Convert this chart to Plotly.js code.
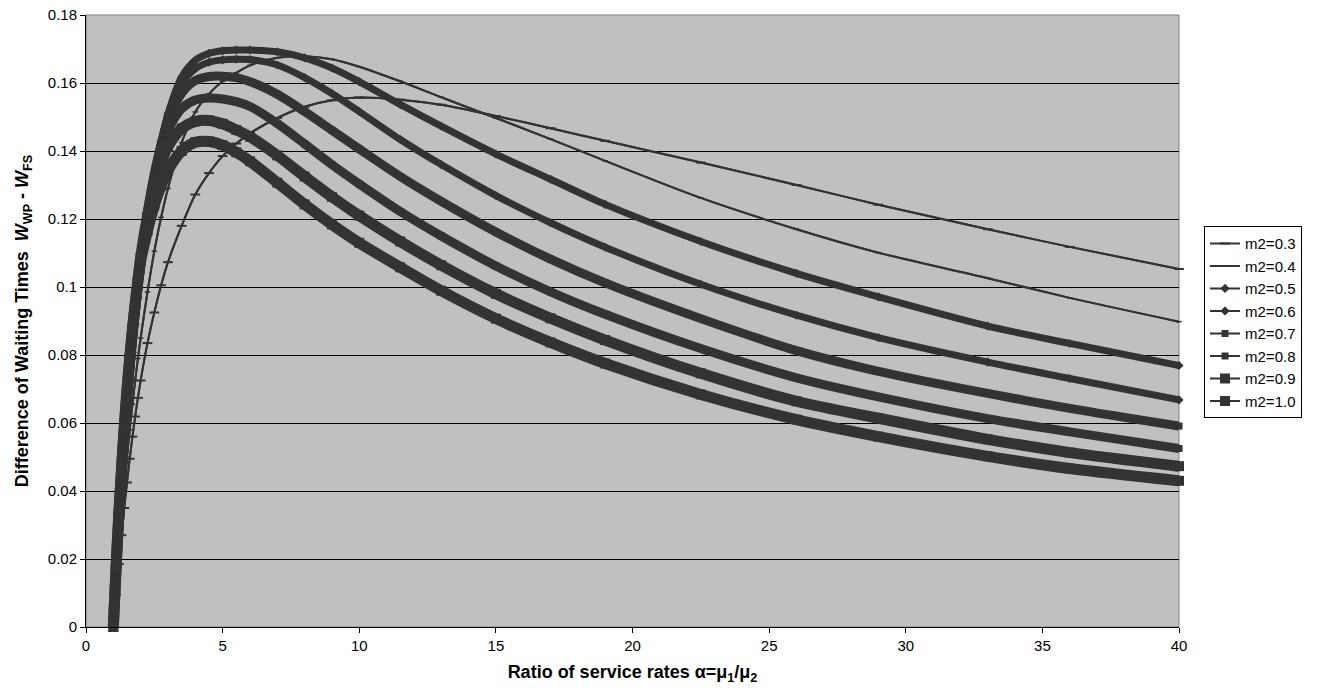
<!DOCTYPE html>
<html>
<head>
<meta charset="utf-8">
<script src="https://cdn.plot.ly/plotly-3.0.1.min.js"></script>
<style>
html,body{margin:0;padding:0;background:#fff;}
#chart{width:1317px;height:700px;}
</style>
</head>
<body>
<div id="chart"></div>
<script>
// Ratio of service rates alpha (x)
const alpha = [1, 1.1, 1.2, 1.3, 1.4, 1.5, 1.6, 1.7, 1.8, 1.9, 2, 2.25, 2.5, 2.75, 3, 3.5, 4, 4.5, 5, 5.5, 6, 7, 8, 9, 10, 11.5, 13, 15, 17, 19, 22.5, 26, 29, 33, 36, 40];

// Difference of waiting times W_WP - W_FS for each m2
const m2_03 = [0, .0095, .0185, .027, .035, .0425, .0495, .056, .0619, .0674, .0725, .0835, .0925, .1005, .1073, .1180, .1272, .1335, .1385, .1422, .1452, .1497, .1530, .1549, .1557, .1551, .1536, .1503, .1467, .1430, .1366, .1300, .1242, .1170, .1118, .1053];
const m2_04 = [0, .011, .022, .032, .0415, .050, .058, .0655, .0725, .079, .085, .0985, .1105, .1205, .129, .1425, .1515, .1568, .1605, .163, .1652, .1674, .1679, .1670, .1648, .1605, .1558, .1497, .1435, .1371, .1262, .1170, .1101, .1026, .0968, .0898];
const m2_05 = [0, .0148, .0283, .0406, .0519, .0623, .0719, .0808, .0890, .0968, .1042, .1198, .1325, .1428, .1510, .1618, .1667, .1687, .1695, .1697, .1697, .1692, .1674, .1644, .1604, .1537, .1473, .1391, .1317, .1243, .1134, .1040, .0971, .0885, .0834, .0769];
const m2_06 = [0, .0154, .0294, .0421, .0538, .0645, .0743, .0834, .0918, .0995, .1065, .1215, .1335, .1430, .1503, .1597, .1642, .1661, .1668, .1670, .1669, .1653, .1616, .1569, .1516, .1434, .1360, .1269, .1189, .1117, .1008, .0917, .0851, .0779, .0731, .0668];
const m2_07 = [0, .0160, .0305, .0436, .0555, .0663, .0762, .0852, .0935, .1011, .1082, .1222, .1333, .1420, .1487, .1570, .1607, .1619, .1620, .1616, .1604, .1567, .1516, .1461, .1406, .1325, .1252, .1162, .1082, .1012, .0907, .0813, .0752, .0687, .0643, .0591];
const m2_08 = [0, .0166, .0315, .0449, .0570, .0679, .0777, .0866, .0946, .1020, .1090, .1222, .1325, .1403, .1460, .1525, .1550, .1556, .1553, .1545, .1531, .1481, .1421, .1360, .1303, .1222, .1150, .1062, .0986, .0920, .0819, .0733, .0677, .0613, .0574, .0525];
const m2_09 = [0, .0172, .0324, .0460, .0582, .0690, .0786, .0872, .0950, .1020, .1087, .1207, .1298, .1365, .1413, .1466, .1487, .1490, .1480, .1462, .1442, .1387, .1325, .1265, .1210, .1134, .1064, .0980, .0908, .0844, .0746, .0664, .0614, .0552, .0513, .0473];
const m2_10 = [0, .0177, .0332, .0468, .0591, .0699, .0793, .0877, .0952, .1017, .1075, .1165, .1240, .1298, .1343, .1400, .1426, .1428, .1417, .1396, .1370, .1307, .1243, .1184, .1130, .1058, .0989, .0907, .0837, .0775, .0684, .0610, .0560, .0502, .0466, .0430];

const seriesNames = ['m2=0.3', 'm2=0.4', 'm2=0.5', 'm2=0.6', 'm2=0.7', 'm2=0.8', 'm2=0.9', 'm2=1.0'];
const seriesValues = [m2_03, m2_04, m2_05, m2_06, m2_07, m2_08, m2_09, m2_10];

// styles
const ink = '#333333';
const bandWidth = [2, 2, 7, 7, 9, 9, 11, 11];
const markerStyle = [
  {symbol: 'line-ew', size: 7, line: {width: 2, color: ink}},
  {symbol: 'line-ew', size: 4, line: {width: 1.5, color: ink}},
  {symbol: 'diamond', size: 7},
  {symbol: 'diamond', size: 7},
  {symbol: 'square', size: 7},
  {symbol: 'square', size: 7},
  {symbol: 'square', size: 10},
  {symbol: 'square', size: 10}
];

const traces = [];
seriesNames.forEach((name, i) => {
  traces.push({
    x: alpha, y: seriesValues[i], type: 'scatter', mode: 'lines',
    line: {color: ink, width: bandWidth[i], shape: 'spline', smoothing: 0.8},
    legendgroup: 'g' + i, showlegend: false, hoverinfo: 'skip'
  });
});
seriesNames.forEach((name, i) => {
  traces.push({
    x: alpha, y: seriesValues[i], type: 'scatter', mode: 'lines+markers', name: name,
    line: {color: ink, width: 2, shape: 'spline', smoothing: 0.8},
    marker: Object.assign({color: ink}, markerStyle[i]),
    cliponaxis: false,
    legendgroup: 'g' + i
  });
});

const fontFam = 'Liberation Sans, Arial, sans-serif';
const layout = {
  width: 1317, height: 700,
  margin: {l: 86, r: 138, t: 15, b: 73, pad: 0},
  paper_bgcolor: '#ffffff',
  plot_bgcolor: '#c0c0c0',
  font: {family: fontFam, size: 15, color: '#000'},
  showlegend: true,
  legend: {
    x: 1.0229, y: 0.655, xanchor: 'left', yanchor: 'top',
    bordercolor: '#000', borderwidth: 1, bgcolor: '#fff',
    font: {family: fontFam, size: 15, color: '#000'},
    traceorder: 'grouped', tracegroupgap: 0
  },
  xaxis: {
    range: [0, 40], dtick: 5, tick0: 0,
    showgrid: false, zeroline: false,
    showline: true, linecolor: '#000', linewidth: 1,
    ticks: 'outside', ticklen: 5, tickcolor: '#000',
    tickfont: {family: fontFam, size: 15, color: '#000'},
    title: {text: 'Ratio of service rates α=μ<sub>1</sub>/μ<sub>2</sub>', font: {family: fontFam, size: 18, weight: 'bold', color: '#000'}, standoff: 12}
  },
  yaxis: {
    range: [0, 0.18], dtick: 0.02, tick0: 0,
    showgrid: true, gridcolor: '#000', gridwidth: 1,
    zeroline: false,
    showline: true, linecolor: '#000', linewidth: 1,
    ticks: 'outside', ticklen: 5, tickcolor: '#000',
    tickfont: {family: fontFam, size: 15, color: '#000'},
    title: {text: 'Difference of Waiting Times  <i>W</i><sub>WP</sub> - <i>W</i><sub>FS</sub>', font: {family: fontFam, size: 18, weight: 'bold', color: '#000'}, standoff: 14}
  },
  shapes: [{
    type: 'rect', xref: 'paper', yref: 'paper', x0: 0, x1: 1, y0: 0, y1: 1,
    line: {color: '#808080', width: 1}, layer: 'below'
  }]
};

Plotly.newPlot('chart', traces, layout, {displayModeBar: false, staticPlot: true});
</script>
</body>
</html>
